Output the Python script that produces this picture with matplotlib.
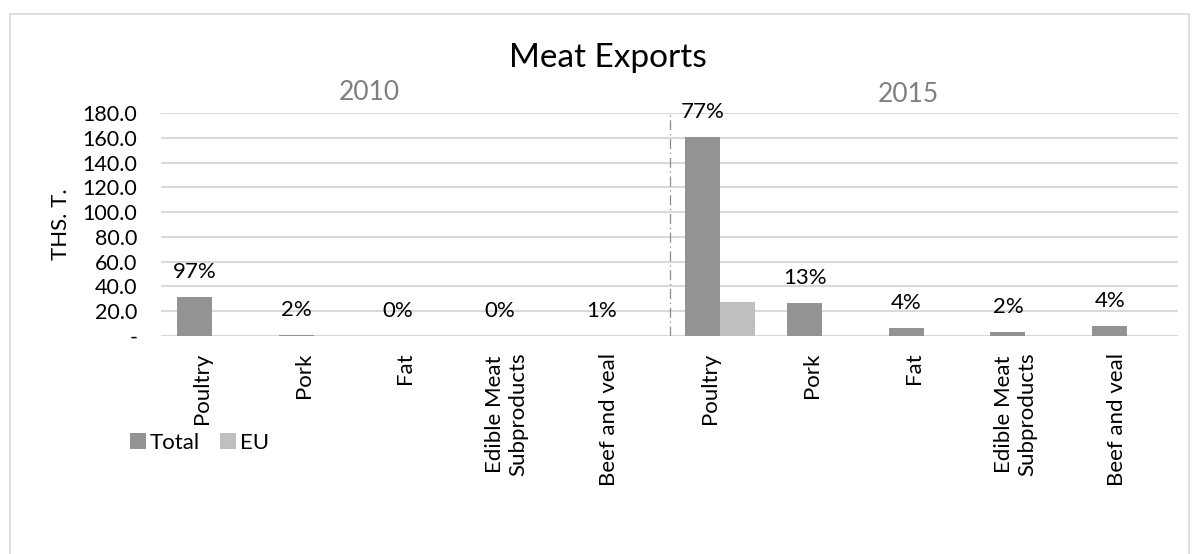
import matplotlib.pyplot as plt
from matplotlib.patches import Rectangle
from matplotlib.ticker import FuncFormatter
from matplotlib.transforms import ScaledTranslation

plt.rcParams['font.family'] = ['Lato', 'DejaVu Sans']

products = ["Poultry", "Pork", "Fat", "Edible Meat\nSubproducts", "Beef and veal"]
years = ["2010", "2015"]

total_2010 = [31.5, 0.6, 0.1, 0.1, 0.3]
eu_2010 = [0.0, 0.0, 0.0, 0.0, 0.0]
total_2015 = [160.9, 26.4, 6.7, 3.0, 7.8]
eu_2015 = [27.2, 0.0, 0.0, 0.0, 0.0]

share_2010 = ["97%", "2%", "0%", "0%", "1%"]
share_2015 = ["77%", "13%", "4%", "2%", "4%"]

total_color = '#939393'
eu_color = '#bfbfbf'

W, H = 1195, 554
fig = plt.figure(figsize=(W / 100, H / 100), dpi=100)
ax = fig.add_axes([161 / W, 1 - 336 / H, (1178 - 161) / W, (336 - 113) / H])

labels = products + products
totals = total_2010 + total_2015
eus = eu_2010 + eu_2015
shares = share_2010 + share_2015
x = list(range(len(labels)))
bw = 0.344

ax.bar([i - bw / 2 for i in x], totals, width=bw, color=total_color, label="Total", zorder=3)
ax.bar([i + bw / 2 for i in x], eus, width=bw, color=eu_color, label="EU", zorder=3)

for i in x:
    ax.annotate(shares[i], (i - bw / 2, totals[i]), xytext=(0, 18), textcoords='offset points',
                ha='center', va='center', fontsize=16, color='#000000')

ax.set_xlim(-0.5, len(labels) - 0.5)
ax.set_ylim(0, 180)
ax.set_yticks(range(0, 181, 20))
ax.yaxis.set_major_formatter(FuncFormatter(lambda v, p: "-" if v == 0 else f"{v:.1f}"))
ax.set_xticks(x)
ax.set_xticklabels(labels, rotation=90, fontsize=16, multialignment='center')
ax.tick_params(axis='y', labelsize=15.5, length=0, pad=17)
ax.tick_params(axis='x', length=0, pad=12)
shift = ScaledTranslation(-10 / 100, 0, fig.dpi_scale_trans)
for lbl in ax.get_xticklabels():
    lbl.set_transform(lbl.get_transform() + shift)
ax.grid(axis='y', color='#d9d9d9', linewidth=1.5, zorder=0)
for s in ax.spines.values():
    s.set_visible(False)

# separator between the two years
ax.axvline(4.5, color='#8c8c8c', linestyle=(0, (8, 3, 1, 3)), linewidth=0.9, zorder=2)

fig.text(61 / W, 1 - 224 / H, "THS. T.", rotation=90, ha='center', va='center', fontsize=16)
fig.text(608 / W, 1 - 58 / H, "Meat Exports", ha='center', va='center', fontsize=24)
fig.text(369 / W, 1 - 92 / H, years[0], ha='center', va='center', fontsize=19, color='#7f7f7f')
fig.text(908 / W, 1 - 95 / H, years[1], ha='center', va='center', fontsize=19, color='#7f7f7f')

fig.legend(loc='center left', bbox_to_anchor=(130 / W, 1 - 443 / H), frameon=False,
           fontsize=16, handlelength=0.7, handleheight=0.7, handletextpad=0.2,
           columnspacing=0.9, ncol=2, borderaxespad=0, borderpad=0)

fig.patches.append(Rectangle((10 / W, -0.05), (1189 - 10) / W, 1.05 - 14 / H,
                             transform=fig.transFigure, fill=False,
                             edgecolor='#d9d9d9', linewidth=1.2))

fig.savefig("out.png", dpi=100)
